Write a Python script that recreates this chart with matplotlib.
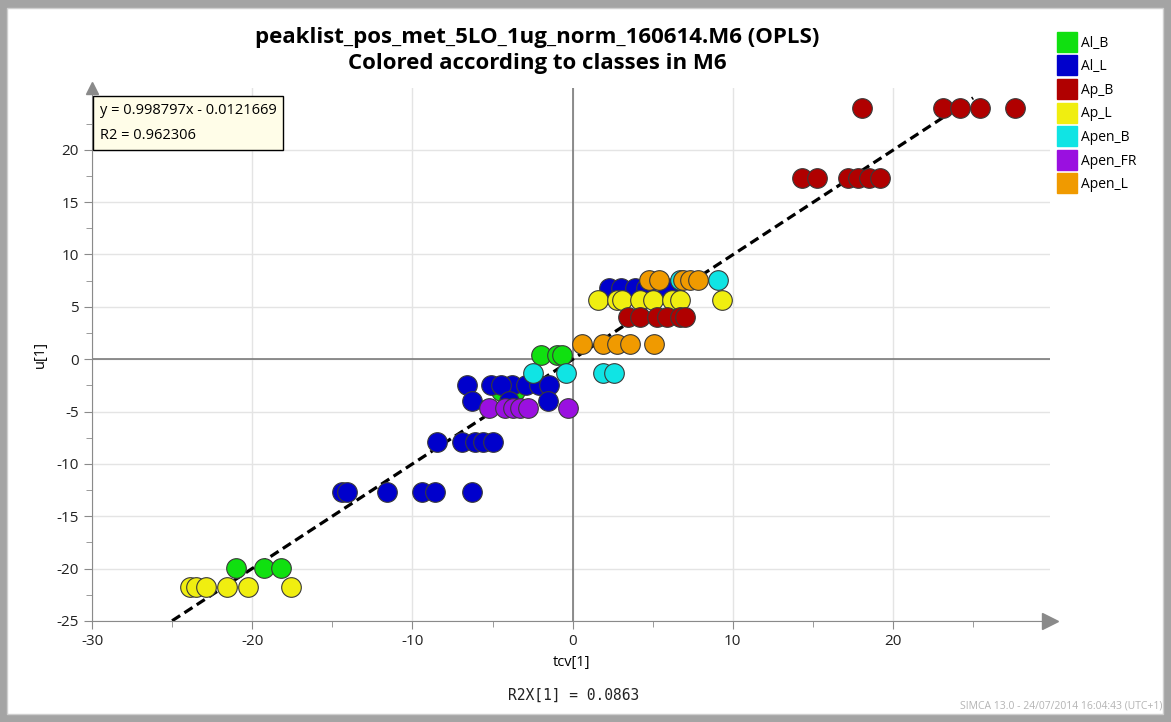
import numpy as np
import matplotlib as mpl
mpl.use('Agg')
from matplotlib import pyplot as plt
from matplotlib.lines import Line2D
from matplotlib.patches import Rectangle

plt.rcParams['font.family'] = ['Open Sans', 'DejaVu Sans']
plt.rcParams['axes.unicode_minus'] = False

# class data (tcv[1], u[1])
al_b_x = [-21.0, -19.25, -18.2, -1.95, -0.95, -0.65, -4.5, -3.6]
al_b_y = [-19.9, -19.9, -19.9, 0.4, 0.4, 0.4, -3.0, -3.0]

al_l_x = [2.3, 3.0, 3.9, 4.6, 5.9,
          -6.6, -5.1, -3.8, -2.9, -2.1, -1.45, -4.5,
          -6.25, -1.55, -4.0,
          -8.45, -6.9, -6.1, -5.6, -5.0,
          -14.4, -14.1, -11.6, -9.4, -8.6, -6.25]
al_l_y = [6.8, 6.8, 6.8, 6.8, 6.8,
          -2.5, -2.5, -2.5, -2.5, -2.5, -2.5, -2.5,
          -4.0, -4.0, -4.0,
          -7.9, -7.9, -7.9, -7.9, -7.9,
          -12.7, -12.7, -12.7, -12.7, -12.7, -12.7]

ap_b_x = [18.05, 23.1, 24.2, 25.4, 27.6,
          14.3, 15.25, 17.2, 17.8, 18.5, 19.2,
          3.45, 4.2, 5.25, 5.9, 6.7, 7.0]
ap_b_y = [24.0, 24.0, 24.0, 24.0, 24.0,
          17.3, 17.3, 17.3, 17.3, 17.3, 17.3,
          4.0, 4.0, 4.0, 4.0, 4.0, 4.0]

ap_l_x = [1.6, 2.75, 3.1, 4.2, 5.0, 6.2, 6.7, 9.3,
          -23.9, -23.5, -22.9, -21.6, -20.25, -17.6]
ap_l_y = [5.7, 5.7, 5.7, 5.7, 5.7, 5.7, 5.7, 5.7,
          -21.8, -21.8, -21.8, -21.8, -21.8, -21.8]

apen_b_x = [6.7, 9.06, -2.5, -0.4, 1.9, 2.6]
apen_b_y = [7.55, 7.55, -1.3, -1.3, -1.3, -1.3]

apen_fr_x = [-5.2, -4.25, -3.75, -3.3, -2.8, -0.3]
apen_fr_y = [-4.7, -4.7, -4.7, -4.7, -4.7, -4.7]

apen_l_x = [4.8, 5.4, 6.9, 7.3, 7.8, 0.6, 1.9, 2.75, 3.6, 5.1]
apen_l_y = [7.55, 7.55, 7.55, 7.55, 7.55, 1.5, 1.5, 1.5, 1.5, 1.5]

class_names = ['Al_B', 'Al_L', 'Ap_B', 'Ap_L', 'Apen_B', 'Apen_FR', 'Apen_L']
class_colors = ['#10e010', '#0000cc', '#b00000', '#f0ee10', '#10e4e4', '#9a10e0', '#f09a00']

slope = 0.998797
intercept = -0.0121669
r2 = 0.962306
r2x = 0.0863
line_x = [-25, 25]

fig = plt.figure(figsize=(11.71, 7.22), dpi=100, facecolor='#a4a4a4')
fig.patches.append(Rectangle((7/1171, 8/722), 1156/1171, 706/722, transform=fig.transFigure,
                             facecolor='white', edgecolor='#cfcfcf', lw=1, zorder=-10))

ax = fig.add_axes([92/1171, 101/722, 958/1171, 533/722])
ax.set_facecolor('none')
ax.set_axisbelow(True)
ax.set_xlim(-30, 29.8)
ax.set_ylim(-25, 25.9)

ax.set_xticks(np.arange(-30, 21, 10))
ax.set_yticks(np.arange(-25, 21, 5))
ax.set_xticks(np.arange(-25, 29, 5), minor=True)
ax.set_yticks(np.arange(-22.5, 25, 2.5), minor=True)
ax.grid(True, which='major', color='#e4e4e4', lw=1)
ax.axhline(0, color='#707070', lw=1.1, zorder=1)
ax.axvline(0, color='#707070', lw=1.1, zorder=1)

for s in ['top', 'right']:
    ax.spines[s].set_visible(False)
for s in ['left', 'bottom']:
    ax.spines[s].set_color('#8a8a8a')
ax.tick_params(which='both', direction='out', color='#8a8a8a', labelsize=11, labelcolor='#222222')
ax.tick_params(which='major', length=6)
ax.tick_params(which='minor', length=4)
# axis arrows
ax.plot(1, 0, '>', color='#8a8a8a', ms=11, transform=ax.transAxes, clip_on=False)
ax.plot(0, 1, '^', color='#8a8a8a', ms=9, transform=ax.transAxes, clip_on=False)

# regression line
lx = np.array(line_x)
ax.plot(lx, slope * lx + intercept, color='black', ls=(0, (3, 1.6)), lw=2.3, zorder=2)

groups = [(al_b_x, al_b_y), (al_l_x, al_l_y), (ap_l_x, ap_l_y), (ap_b_x, ap_b_y),
          (apen_b_x, apen_b_y), (apen_fr_x, apen_fr_y), (apen_l_x, apen_l_y)]
order = [0, 1, 3, 2, 4, 5, 6]
for k, (i, (gx, gy)) in enumerate(zip(order, groups)):
    ax.scatter(gx, gy, s=200, color=class_colors[i], edgecolors='#3a3a3a',
               linewidths=0.8, zorder=3 + k * 0.1)

# regression box (figure pixel coordinates from the reference)
fig.text(100/1171, 1 - 103/722, 'y = {}x - {}\nR2 = {}'.format(slope, -intercept, r2),
         va='top', ha='left', fontsize=10.5, linespacing=1.95,
         bbox=dict(boxstyle='square,pad=0.45', facecolor='#fffde8', edgecolor='black', lw=1),
         zorder=10)

ax.set_xlabel('tcv[1]', fontsize=10.5, labelpad=4)
ax.set_ylabel('u[1]', fontsize=10.5, labelpad=6)
fig.text(574/1171, 1 - 695/722, 'R2X[1] = {}'.format(r2x), family='DejaVu Sans Mono',
         fontsize=10.5, ha='center', va='center', color='#222222')

fig.text(537/1171, 1 - 38/722, 'peaklist_pos_met_5LO_1ug_norm_160614.M6 (OPLS)',
         fontsize=16, weight='bold', ha='center', va='center')
fig.text(537/1171, 1 - 63/722, 'Colored according to classes in M6',
         fontsize=16, weight='bold', ha='center', va='center')

fig.text(1162/1171, 1 - 706/722, 'SIMCA 13.0 - 24/07/2014 16:04:43 (UTC+1)',
         fontsize=7.5, color='#b4b4b4', ha='right', va='center')

handles = [Line2D([], [], marker='s', ls='none', ms=14, color=c) for c in class_colors]
fig.legend(handles, class_names, loc='upper left', bbox_to_anchor=(1052/1171, 1 - 30/722),
           frameon=False, fontsize=10, handletextpad=0.3, labelspacing=0.62,
           handlelength=1.4, borderaxespad=0)

fig.savefig('out.png', dpi=100, facecolor=fig.get_facecolor())
